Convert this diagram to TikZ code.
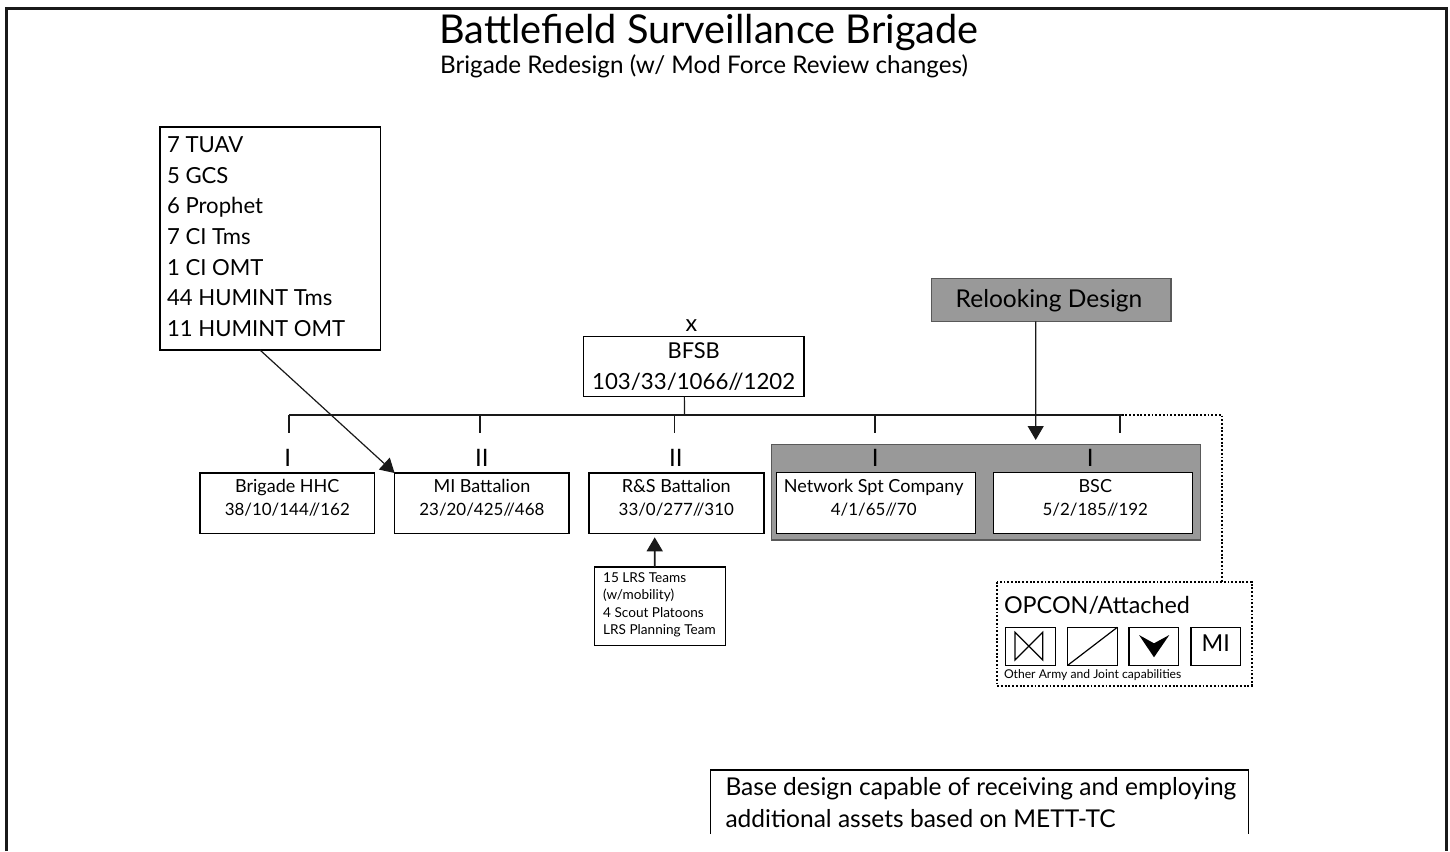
\documentclass[tikz,border=0pt]{standalone}
\usepackage{fontspec}
\setmainfont{Lato}
\usetikzlibrary{arrows.meta}
\tikzset{
 x=0.75pt,y=-0.75pt,
 bw/.style={minimum width=#1*0.75pt},
 bh/.style={minimum height=#1*0.75pt},
 box/.style={draw=black,line width=1.1pt,fill=white,inner sep=0pt,outer sep=0pt,anchor=north west},
 graybox/.style={box,draw=black!65,fill=black!40},
 lbl/.style={inner sep=0pt,outer sep=0pt,align=center,anchor=base},
 unitlbl/.style={lbl,font=\fontsize{13.5}{16}\selectfont},
 numlbl/.style={lbl,font=\fontsize{12.7}{16}\selectfont},
 lefttxt/.style={inner sep=0pt,outer sep=0pt,align=left,anchor=north west},
 ech/.style={lbl,font=\fontsize{18}{18}\selectfont},
 link/.style={line width=1.2pt,draw=black!90},
 arr/.style={link,-{Triangle[length=10.5pt,width=12pt]}},
 dots/.style={line width=1.3pt,dash pattern=on 1.4pt off 1.4pt},
}
\begin{document}
\begin{tikzpicture}
\useasboundingbox (0,0) rectangle (1450,851);
\draw[line width=2.1pt,draw=black!90] (6.7,851) -- (6.7,8.5) -- (1446.3,8.5) -- (1446.3,851);
% titles
\node[lbl,font=\fontsize{29.8}{30}\selectfont] (title) at (709,43) {Battlefield Surveillance Brigade};
\node[lbl,font=\fontsize{18.2}{18.2}\selectfont] (sub) at (704,73) {Brigade Redesign (w/ Mod Force Review changes)};
% assets
\node[box,bw=220.5,bh=223] (assets) at (160,127) {};
\node[lefttxt,font=\fontsize{16.6}{23}\selectfont] (assetstxt) at (167,136.7) {7 TUAV\\5 GCS\\6 Prophet\\7 CI Tms\\1 CI OMT\\44 HUMINT Tms\\11 HUMINT OMT};
% BFSB
\node[lbl,font=\fontsize{17.5}{17.5}\selectfont] (xmark) at (691.5,331.7) {x};
\node[box,bw=220.7,bh=60.4] (bfsb) at (583.3,336.3) {};
\node[lbl,font=\fontsize{16.4}{16.4}\selectfont] (bfsbname) at (693.7,358.3) {BFSB};
\node[lbl,font=\fontsize{16.7}{16.7}\selectfont] (bfsbnum) at (693.7,389.3) {103/33/1066/{}/1202};
% Relooking
\node[graybox,bw=239.6,bh=42.7] (relook) at (931.4,278.7) {};
\node[lbl,font=\fontsize{18.4}{18.4}\selectfont] (relooktxt) at (1049,307) {Relooking Design};
% band
\node[graybox,bw=429,bh=95.7] (band) at (771.7,444.3) {};
% units
\node[box,bw=174.6,bh=60.3] (hhc) at (200,473) {};
\node[unitlbl] at (287.3,492.3) {Brigade HHC};
\node[numlbl] at (287.3,515) {38/10/144/{}/162};
\node[box,bw=174.6,bh=60.3] (mi) at (394.6,473) {};
\node[unitlbl] at (481.9,492.3) {MI Battalion};
\node[numlbl] at (481.9,515) {23/20/425/{}/468};
\node[box,bw=175,bh=60.3] (rs) at (588.8,473) {};
\node[unitlbl] at (676.3,492.3) {R\&S Battalion};
\node[numlbl] at (676.3,515) {33/0/277/{}/310};
\node[box,bw=199,bh=60.6] (net) at (776.7,472.7) {};
\node[unitlbl] at (873.7,492.3) {Network Spt Company};
\node[numlbl] at (873.7,515) {4/1/65/{}/70};
\node[box,bw=199,bh=60.6] (bsc) at (993.3,472.7) {};
\node[unitlbl] at (1095.3,492.3) {BSC};
\node[numlbl] at (1095.3,515) {5/2/185/{}/192};
% echelons
\node[ech] at (287.7,466.7) {I};
\node[ech] at (481.9,466.7) {II};
\node[ech] at (675.8,466.7) {II};
\node[ech] at (875.3,466.7) {I};
\node[ech] at (1090.3,466.7) {I};
% LRS
\node[box,bw=131,bh=78.7] (lrs) at (594.7,567) {};
\node[lefttxt,font=\fontsize{10.2}{13}\selectfont] (lrstxt) at (603.2,572.5) {15 LRS Teams\\(w/mobility)\\4 Scout Platoons\\LRS Planning Team};
% connectors
\coordinate (tl) at (288.8,415);
\coordinate (tr) at (1121.7,415);
\coordinate (d2) at (479.7,415);
\coordinate (d3) at (674.6,415);
\coordinate (d4) at (875,415);
\coordinate (d5) at (1119.7,415);
\coordinate (stem) at (684.5,415);
\draw[link] (tl) -- (tr);
\draw[link,line width=0.8pt] ([xshift=-6.9pt]bfsb.south) -- (stem);
\foreach \p in {tl,d2,d3,d4,d5} \draw[link] (\p) -- ++(0,17.7);
\coordinate (relooktip) at (1035.7,440);
\draw[arr,line width=0.9pt] ([xshift=-11.6pt]relook.south) -- (relooktip);
\draw[arr,line width=0.9pt] ([xshift=-7.7pt]assets.south) -- (mi.north west);
\coordinate (rstip) at (654.7,537.3);
\draw[arr] ([xshift=-4.1pt]lrs.north) -- (rstip);
% OPCON
\node[box,draw=none,fill=none,bw=255,bh=104] (opcon) at (996.7,581.7) {};
\draw[dots] (opcon.north west) rectangle (opcon.south east);
\coordinate (opcontop) at (1222,581.7);
\draw[dots] (tr) -| (opcontop);
\node[lbl,anchor=base west,font=\fontsize{17.5}{17.5}\selectfont] (opcontxt) at (1004,613.3) {OPCON/Attached};
\node[box,bw=49.6,bh=38] (s1) at (1005.7,627.3) {};
\node[box,bw=49.6,bh=38] (s2) at (1067.7,627.3) {};
\node[box,bw=49.6,bh=38] (s3) at (1129,627.3) {};
\node[box,bw=49.6,bh=38] (s4) at (1191,627.3) {};
\node[lbl,font=\fontsize{17.5}{17.5}\selectfont] at (1215.8,651.7) {MI};
\draw[line width=0.9pt] (1015,632.3) -- (1015,660) -- (1042.7,632.3) -- (1042.7,660) -- cycle;
\draw[line width=0.9pt] (s2.south west) -- (s2.north east);
\fill[black] (1139,635) -- (1154,643.3) -- (1169.3,635) -- (1154,657.3) -- cycle;
\node[lbl,anchor=base west,font=\fontsize{9.1}{9.1}\selectfont] (opconsmall) at (1004,678.7) {Other Army and Joint capabilities};
% base
\coordinate (b1) at (710.3,834);
\coordinate (b2) at (1248.6,834);
\draw[line width=1.1pt] (b1) |- (1248.6,770) -- (b2);
\node[lefttxt,font=\fontsize{18.4}{23.5}\selectfont] (basetxt) at (725.5,777.7) {Base design capable of receiving and employing\\additional assets based on METT-TC};
\end{tikzpicture}
\end{document}
